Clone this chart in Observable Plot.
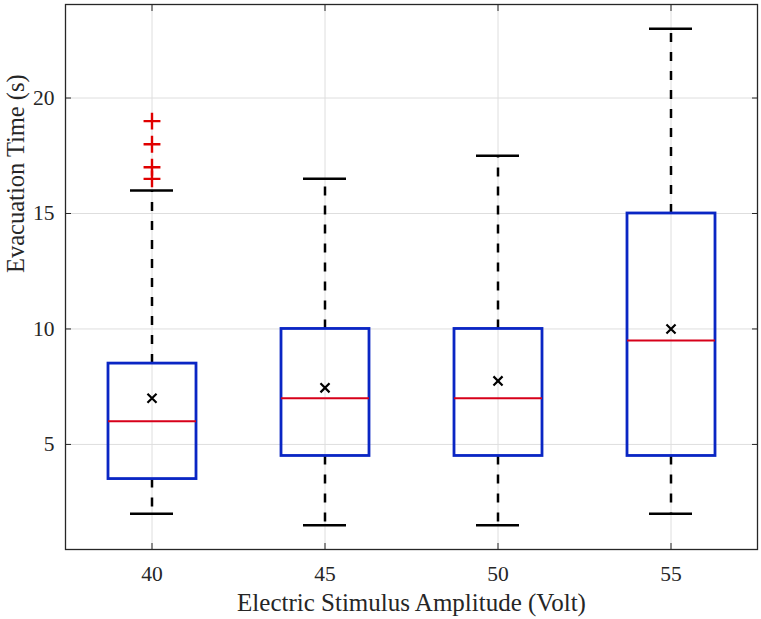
<!DOCTYPE html>
<html>
<head>
<meta charset="utf-8">
<script src="https://cdn.jsdelivr.net/npm/d3@7"></script>
<script src="https://cdn.jsdelivr.net/npm/@observablehq/plot@0.6"></script>
<style>
  body { margin: 0; background: #fff; }
</style>
</head>
<body>
<div id="chart"></div>
<script>
// box statistics per amplitude
const amplitudes = ["40", "45", "50", "55"];
const lowerWhisker = [2, 1.5, 1.5, 2];
const q1 = [3.5, 4.5, 4.5, 4.5];
const medians = [6, 7, 7, 9.5];
const q3 = [8.5, 10, 10, 15];
const upperWhisker = [16, 16.5, 17.5, 23];
const means = [7.0, 7.45, 7.75, 10.0];

const outlierAmp = ["40", "40", "40", "40"];
const outlierValues = [16.5, 17, 18, 19];

const yTicks = [5, 10, 15, 20];

let boxes = amplitudes.map((a, i) => ({
    amp: a,
    lo: lowerWhisker[i],
    q1: q1[i],
    med: medians[i],
    q3: q3[i],
    hi: upperWhisker[i],
    mean: means[i]
}));
let outliers = outlierValues.map((v, i) => ({amp: outlierAmp[i], v: v}));

const serif = "Liberation Serif";
const frameColor = "#262626";
const boxBlue = "#0a26c4";
const medRed = "#d7001a";

let plot = Plot.plot({
    width: 761,
    height: 619,
    marginLeft: 65,
    marginRight: 4,
    marginTop: 4,
    marginBottom: 70,
    x: {type: "band", domain: amplitudes, padding: 0},
    y: {domain: [0.45, 24.05]},
    style: {
        fontFamily: serif,
        fontSize: "21px",
        color: frameColor,
        background: "#fff"
    },
    marks: [
        Plot.gridY(yTicks, {stroke: "#dedede", strokeOpacity: 1}),
        Plot.gridX(amplitudes, {stroke: "#dedede", strokeOpacity: 1}),

        // inward ticks on all four sides
        Plot.axisY(yTicks, {anchor: "left", tickSize: -6, tickFormat: () => "", label: null, stroke: frameColor}),
        Plot.axisY(yTicks, {anchor: "right", tickSize: -6, tickFormat: () => "", label: null, stroke: frameColor}),
        Plot.axisX(amplitudes, {anchor: "bottom", tickSize: -6, tickFormat: () => "", label: null, stroke: frameColor}),
        Plot.axisX(amplitudes, {anchor: "top", tickSize: -6, tickFormat: () => "", label: null, stroke: frameColor}),

        // tick labels
        Plot.axisY(yTicks, {anchor: "left", tickSize: 0, tickPadding: 11, label: null, fill: frameColor,
            fontSize: 21.5, fontFamily: serif}),
        Plot.axisX(amplitudes, {anchor: "bottom", tickSize: 0, tickPadding: 16, label: null, fill: frameColor,
            fontSize: 21.5, fontFamily: serif}),

        // whiskers
        Plot.ruleX(boxes, {x: "amp", y1: "q3", y2: "hi", stroke: "#000", strokeWidth: 2.5, strokeDasharray: "9,10"}),
        Plot.ruleX(boxes, {x: "amp", y1: "q1", y2: "lo", stroke: "#000", strokeWidth: 2.5, strokeDasharray: "9,10"}),
        Plot.tickY(boxes, {x: "amp", y: "hi", stroke: "#000", strokeWidth: 2.5, insetLeft: 65, insetRight: 65}),
        Plot.tickY(boxes, {x: "amp", y: "lo", stroke: "#000", strokeWidth: 2.5, insetLeft: 65, insetRight: 65}),

        // boxes
        Plot.barY(boxes, {x: "amp", y1: "q1", y2: "q3", fill: "none", stroke: boxBlue, strokeWidth: 2.8, insetLeft: 43, insetRight: 42}),
        Plot.tickY(boxes, {x: "amp", y: "med", stroke: medRed, strokeWidth: 2, insetLeft: 43, insetRight: 42}),

        // means and outliers
        Plot.dot(boxes, {x: "amp", y: "mean", symbol: "times", r: 4.2, stroke: "#000", strokeWidth: 2.2}),
        Plot.dot(outliers, {x: "amp", y: "v", symbol: "plus", r: 5.5, stroke: "#e00000", strokeWidth: 2.4}),

        Plot.frame({stroke: frameColor, strokeWidth: 1.3}),

        // axis titles
        Plot.text(["Electric Stimulus Amplitude (Volt)"], {
            frameAnchor: "bottom", dy: 61, lineAnchor: "bottom",
            fontSize: 25, fontFamily: serif, fill: frameColor
        }),
        Plot.text(["Evacuation Time (s)"], {
            frameAnchor: "left", dx: -42, dy: -4, rotate: -90, lineAnchor: "bottom",
            fontSize: 24.5, fontFamily: serif, fill: frameColor
        })
    ]
});

document.getElementById("chart").append(plot);
</script>
</body>
</html>
